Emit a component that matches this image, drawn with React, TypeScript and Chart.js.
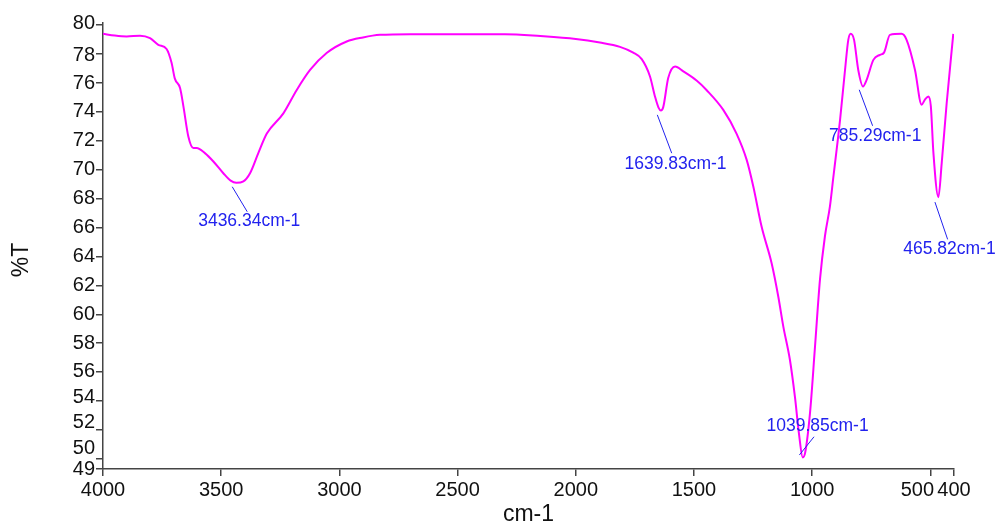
import React, { useEffect, useRef } from "react";
import { Chart, registerables } from "chart.js";

Chart.register(...registerables);

// Spectrum (wavenumber in cm-1, transmittance in %T)
const wavenumbers = [
  4000, 3950, 3900, 3843, 3801, 3766, 3731, 3710, 3696, 3674, 3660, 3639, 3618, 3604, 3569, 3533,
  3491, 3460, 3436, 3406, 3378, 3343, 3307, 3237, 3181, 3124, 3054, 2969, 2900, 2828, 2700, 2500,
  2300, 2150, 2000, 1898, 1813, 1757, 1721, 1686, 1665, 1650, 1640, 1630, 1609, 1580, 1545, 1489,
  1446, 1376, 1320, 1277, 1249, 1214, 1171, 1143, 1122, 1094, 1073, 1056, 1040, 1030, 1009, 988,
  967, 946, 925, 911, 882, 861, 847, 837, 823, 805, 785, 770, 741, 713, 696, 671, 622, 601, 565,
  537, 523, 508, 498, 487, 466, 452, 431, 403,
];
const transmittance = [
  79.4, 79.28, 79.22, 79.27, 79.1, 78.64, 78.35, 77.4, 76.3, 75.65, 74.4, 72.3, 71.5, 71.5, 71.15, 70.57,
  69.76, 69.25, 69.1, 69.2, 69.76, 71.15, 72.5, 73.9, 75.5, 76.9, 78.07, 78.87, 79.15, 79.33, 79.38, 79.38,
  79.38, 79.25, 79.05, 78.8, 78.5, 78.1, 77.65, 76.45, 75.07, 74.3, 74.1, 74.33, 76.34, 77.14, 76.8, 76.17,
  75.5, 74.14, 72.5, 70.68, 68.84, 66.07, 63.5, 61.2, 59.15, 56.84, 54.3, 51.77, 50.1, 50.4, 53.2, 57.76,
  62.4, 65.4, 67.45, 69.4, 73.45, 76.9, 79.0, 79.4, 79.0, 76.9, 75.76, 76.2, 77.6, 77.95, 78.1, 79.33, 79.4, 79.0, 76.9,
  74.5, 74.85, 75.07, 74.4, 71.15, 68.1, 70.46, 74.6, 79.4,
];

const xTickValues = [4000, 3500, 3000, 2500, 2000, 1500, 1000, 500, 400];
const xTickLabels = ["4000", "3500", "3000", "2500", "2000", "1500", "1000", "500", "400"];
const yTickValues = [49.3, 50, 52, 54, 56, 58, 60, 62, 64, 66, 68, 70, 72, 74, 76, 78, 80];
const yTickLabels = ["49", "50", "52", "54", "56", "58", "60", "62", "64", "66", "68", "70", "72", "74", "76", "78", "80"];

const peakWavenumbers = [3436.34, 1639.83, 1039.85, 785.29, 465.82];
const peakTransmittance = [69.1, 74.1, 50.1, 75.76, 68.1];
const peakLabels = ["3436.34cm-1", "1639.83cm-1", "1039.85cm-1", "785.29cm-1", "465.82cm-1"];

const xTitle = "cm-1";
const yTitle = "%T";

export default function App() {
  const canvasRef = useRef<HTMLCanvasElement | null>(null);

  useEffect(() => {
    document.body.style.margin = "0";
    const canvas = canvasRef.current;
    if (!canvas) return;

    const FONT_FAMILY = '"Liberation Sans", Arial, sans-serif';

    // label leader-line and text placement relative to each peak point (px)
    const placement = [
      { l0: [-4, 4], l1: [11, 29], t: [13, 38] },
      { l0: [-3.6, 4.4], l1: [10.8, 42.7], t: [14.6, 53.4] },
      { l0: [-3.4, -2.4], l1: [11.3, -20.7], t: [14.8, -30.9] },
      { l0: [-3.7, 3.3], l1: [9.7, 39.3], t: [12.3, 49.3] },
      { l0: [-3.5, 4.9], l1: [9.2, 42.2], t: [11, 52.2] },
    ];

    // collision-avoidance nudges of tick labels (px), as in the original plot
    const yLabelNudge = [0.5, -10, -7.5, -3.5, -1, 0, 0, 0, 0, 0, 0, 0, 0, 0, 0.5, 1, -2];
    const xLabelNudge = [0, 0, 0, 0, 0, 0, 0, -13, 0];

    const tickLabelPlugin = {
      id: "tickLabels",
      afterDraw(chart: any) {
        const ctx = chart.ctx;
        const xs = chart.scales.x;
        const ys = chart.scales.y;
        ctx.save();
        ctx.fillStyle = "#111111";
        ctx.font = `20px ${FONT_FAMILY}`;
        ctx.textBaseline = "middle";
        ctx.textAlign = "right";
        yTickValues.forEach((v, i) => {
          ctx.fillText(yTickLabels[i], ys.left + ys.width - 8, ys.getPixelForValue(v) + yLabelNudge[i]);
        });
        ctx.textAlign = "center";
        xTickValues.forEach((v, i) => {
          ctx.fillText(xTickLabels[i], xs.getPixelForValue(v) + xLabelNudge[i], xs.top + 21);
        });
        ctx.restore();
      },
    };

    const peakPlugin = {
      id: "peakLabels",
      afterDatasetsDraw(chart: any) {
        const ctx = chart.ctx;
        const xs = chart.scales.x;
        const ys = chart.scales.y;
        ctx.save();
        ctx.strokeStyle = "#2222ee";
        ctx.fillStyle = "#2222ee";
        ctx.lineWidth = 1;
        ctx.font = `17.5px ${FONT_FAMILY}`;
        ctx.textAlign = "center";
        ctx.textBaseline = "middle";
        peakWavenumbers.forEach((wn, i) => {
          const px = xs.getPixelForValue(wn);
          const py = ys.getPixelForValue(peakTransmittance[i]);
          const p = placement[i];
          ctx.beginPath();
          ctx.moveTo(px + p.l0[0], py + p.l0[1]);
          ctx.lineTo(px + p.l1[0], py + p.l1[1]);
          ctx.stroke();
          ctx.fillText(peakLabels[i], px + p.t[0], py + p.t[1]);
        });
        ctx.restore();
      },
    };

    const titlePlugin = {
      id: "axisTitles",
      afterDraw(chart: any) {
        const ctx = chart.ctx;
        const area = chart.chartArea;
        ctx.save();
        ctx.fillStyle = "#111111";
        ctx.font = `23px ${FONT_FAMILY}`;
        ctx.textAlign = "center";
        ctx.textBaseline = "middle";
        ctx.fillText(xTitle, (area.left + area.right) / 2, 515);
        ctx.translate(22, 260);
        ctx.rotate(-Math.PI / 2);
        ctx.fillText(yTitle, 0, 0);
        ctx.restore();
      },
    };

    const points = wavenumbers.map((w, i) => ({ x: w, y: transmittance[i] }));

    const chart = new Chart(canvas, {
      type: "line",
      data: {
        datasets: [
          {
            data: points,
            borderColor: "#ff00ff",
            borderWidth: 2,
            pointRadius: 0,
            fill: false,
            cubicInterpolationMode: "monotone",
          },
        ],
      },
      options: {
        animation: false,
        responsive: false,
        devicePixelRatio: 1,
        layout: { padding: { top: 23, right: 44, left: 0, bottom: 0 } },
        plugins: { legend: { display: false }, tooltip: { enabled: false } },
        scales: {
          x: {
            type: "linear",
            min: 400,
            max: 4000,
            reverse: true,
            afterBuildTicks: (s: any) => {
              s.ticks = xTickValues.map((v) => ({ value: v }));
            },
            afterFit: (s: any) => {
              s.height = 56;
            },
            ticks: { display: false, autoSkip: false, maxRotation: 0 },
            grid: { drawOnChartArea: false, drawTicks: true, tickLength: 7, color: "#444444", lineWidth: 1.5 },
            border: { display: true, color: "#444444", width: 1.5 },
          },
          y: {
            type: "linear",
            min: 49.3,
            max: 80.15,
            afterBuildTicks: (s: any) => {
              s.ticks = yTickValues.map((v) => ({ value: v }));
            },
            afterFit: (s: any) => {
              s.width = 103;
            },
            ticks: { display: false, autoSkip: false },
            grid: { drawOnChartArea: false, drawTicks: true, tickLength: 7, color: "#444444", lineWidth: 1.5 },
            border: { display: true, color: "#444444", width: 1.5 },
          },
        },
      },
      plugins: [peakPlugin, tickLabelPlugin, titlePlugin],
    } as any);

    return () => chart.destroy();
  }, []);

  return (
    <div style={{ width: 998, height: 525, position: "relative", background: "#fff" }}>
      <canvas ref={canvasRef} width={998} height={525} />
    </div>
  );
}
